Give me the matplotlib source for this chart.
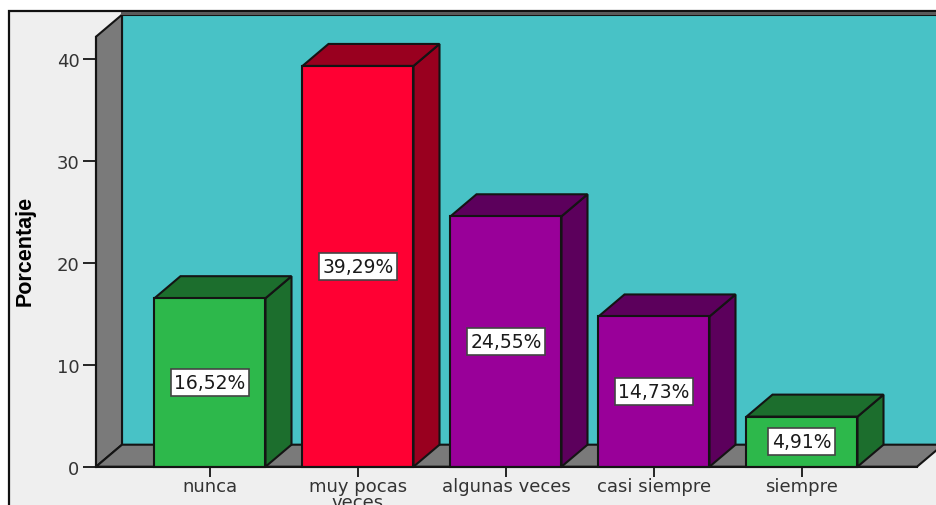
"""Bar chart with fake 3D depth, SPSS style."""
import matplotlib
matplotlib.use("Agg")
import matplotlib.pyplot as plt
from matplotlib.patches import Polygon, Rectangle

categories = ["nunca", "muy pocas\nveces", "algunas veces", "casi siempre", "siempre"]
values = [16.52, 39.29, 24.55, 14.73, 4.91]
bar_labels = ["16,52%", "39,29%", "24,55%", "14,73%", "4,91%"]
y_ticks = [0, 10, 20, 30, 40]

front_colors = ["#2DB84B", "#FF0033", "#990099", "#990099", "#2DB84B"]
side_colors = ["#1C6E2D", "#99001F", "#5C005C", "#5C005C", "#1C6E2D"]

W, H = 937, 506
EDGE = "#141414"

plt.rcParams["font.family"] = ["DejaVu Sans"]
fig = plt.figure(figsize=(W / 100, H / 100), dpi=100, facecolor="white")

# chart frame, runs off the right and bottom of the image
fig.add_artist(Rectangle((9 / W, 0 - 0.02), 1.0, (H - 12) / H + 0.02,
                         transform=fig.transFigure, fc="#EFEFEF", ec="#111111", lw=1.6,
                         zorder=-1))

# axes box = front plane of the plot, in pixels
left, right, y0_px, top_px = 96, 917, 467.7, 37.7
ax = fig.add_axes([left / W, (H - y0_px) / H, (right - left) / W, (y0_px - top_px) / H])
ax.patch.set_visible(False)

px_x = 148.0   # pixels per category
px_y = 10.2    # pixels per percentage point
ax.set_xlim((left - 210) / px_x, (right - 210) / px_x)
ax.set_ylim(0, (y0_px - top_px) / px_y)
x0, x1 = ax.get_xlim()
y1 = ax.get_ylim()[1]

# depth of the 3D effect in data units
dx = 26 / px_x
dy = 22 / px_y
bar_w = 111 / px_x


def poly(points, fc, z):
    ax.add_patch(Polygon(points, closed=True, fc=fc, ec=EDGE, lw=1.5,
                         clip_on=False, zorder=z, joinstyle="miter"))


# walls and floor
poly([(x0 + dx, dy), (x1 + dx, dy), (x1 + dx, y1 + dy), (x0 + dx, y1 + dy)], "#48C2C6", 1)
poly([(x0, 0), (x0 + dx, dy), (x0 + dx, y1 + dy), (x0, y1)], "#7A7A7A", 2)
poly([(x0, 0), (x1, 0), (x1 + dx, dy), (x0 + dx, dy)], "#7A7A7A", 2)
fig.add_artist(Rectangle((121 / W, (H - 15.5) / H), 1.0, 2.5 / H,
                         transform=fig.transFigure, fc="#5A5A5A", ec="none", zorder=5))

# bars
for i, (val, label) in enumerate(zip(values, bar_labels)):
    a, b = i - bar_w / 2, i + bar_w / 2
    poly([(b, 0), (b + dx, dy), (b + dx, val + dy), (b, val)], side_colors[i], 3 + i)
    poly([(a, val), (b, val), (b + dx, val + dy), (a + dx, val + dy)], side_colors[i], 3 + i)
    poly([(a, 0), (b, 0), (b, val), (a, val)], front_colors[i], 3 + i)
    ax.text(i, val / 2, label, ha="center", va="center", fontsize=13.5, color="#1A1A1A",
            zorder=10, bbox=dict(boxstyle="square,pad=0.2", fc="white", ec="#444444", lw=1.2))

# axes
for side in ("top", "right"):
    ax.spines[side].set_visible(False)
for side in ("left", "bottom"):
    ax.spines[side].set_color(EDGE)
    ax.spines[side].set_linewidth(1.5)
    ax.spines[side].set_zorder(9)

ax.set_yticks(y_ticks)
ax.set_xticks(range(len(categories)))
ax.set_xticklabels(categories, linespacing=0.86)
ax.tick_params(axis="y", length=9.5, width=1.3, color=EDGE, labelsize=13,
               labelcolor="#333333", pad=2.5)
ax.tick_params(axis="x", length=7.2, width=1.3, color=EDGE, labelsize=13,
               labelcolor="#333333", pad=0)

fig.text(25 / W, (H - 251) / H, "Porcentaje", rotation=90, ha="center", va="center",
         fontsize=15.5, fontweight="bold", color="black",
         family=["Liberation Sans Narrow", "Liberation Sans"])

fig.savefig("out.png", dpi=100, facecolor="white")
